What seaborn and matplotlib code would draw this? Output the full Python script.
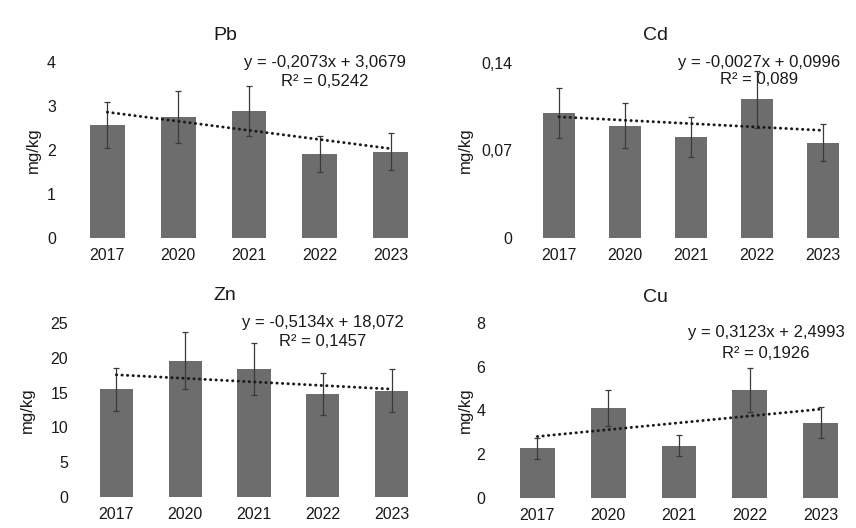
import numpy as np
import pandas as pd
import matplotlib
matplotlib.use("Agg")
import matplotlib.pyplot as plt
import seaborn as sns

sns.set_theme(style="white")
plt.rcParams["font.family"] = ["Liberation Sans", "DejaVu Sans"]

years = ["2017", "2020", "2021", "2022", "2023"]

pb_mean = [2.57, 2.76, 2.89, 1.91, 1.96]
pb_sd = [0.52, 0.59, 0.57, 0.40, 0.42]
cd_mean = [0.100, 0.0898, 0.0805, 0.111, 0.0762]
cd_sd = [0.0203, 0.018, 0.016, 0.023, 0.015]
zn_mean = [15.5, 19.6, 18.4, 14.8, 15.25]
zn_sd = [3.1, 4.1, 3.7, 3.0, 3.1]
cu_mean = [2.28, 4.11, 2.40, 4.95, 3.45]
cu_sd = [0.48, 0.84, 0.46, 1.0, 0.71]

# linear trend coefficients (slope, intercept) and R² as printed on each panel
pb_fit = (-0.2073, 3.0679, 0.5242)
cd_fit = (-0.0027, 0.0996, 0.089)
zn_fit = (-0.5134, 18.072, 0.1457)
cu_fit = (0.3123, 2.4993, 0.1926)

pb_fit_txt = ("y = -0,2073x + 3,0679", "R² = 0,5242")
cd_fit_txt = ("y = -0,0027x + 0,0996", "R² = 0,089")
zn_fit_txt = ("y = -0,5134x + 18,072", "R² = 0,1457")
cu_fit_txt = ("y = 0,3123x + 2,4993", "R² = 0,1926")

pb_ticks = [0, 1, 2, 3, 4]
pb_ticklabels = ["0", "1", "2", "3", "4"]
cd_ticks = [0, 0.07, 0.14]
cd_ticklabels = ["0", "0,07", "0,14"]
zn_ticks = [0, 5, 10, 15, 20, 25]
zn_ticklabels = ["0", "5", "10", "15", "20", "25"]
cu_ticks = [0, 2, 4, 6, 8]
cu_ticklabels = ["0", "2", "4", "6", "8"]

W, H = 856, 528
fig = plt.figure(figsize=(W / 100, H / 100), dpi=100)
fig.patch.set_facecolor("white")

BAR = "#6d6d6d"
ERR = "#3a3a3a"
INK = "#1a1a1a"


def add_axes_px(left, right, top, bottom):
    return fig.add_axes([left / W, 1 - bottom / H, (right - left) / W, (bottom - top) / H])


panels = [
    dict(name="Pb", mean=pb_mean, sd=pb_sd, fit=pb_fit, txt=pb_fit_txt,
         ticks=pb_ticks, tl=pb_ticklabels, box=(72, 426, 62, 238),
         ylab=(33, 150), title=(225, 35), eq=(325, 62), r2=(325, 82), ypad=11.5, width=0.49),
    dict(name="Cd", mean=cd_mean, sd=cd_sd, fit=cd_fit, txt=cd_fit_txt,
         ticks=cd_ticks, tl=cd_ticklabels, box=(526, 856, 63, 238),
         ylab=(465, 150), title=(655, 35), eq=(759, 62), r2=(759, 80), ypad=10, width=0.48),
    dict(name="Zn", mean=zn_mean, sd=zn_sd, fit=zn_fit, txt=zn_fit_txt,
         ticks=zn_ticks, tl=zn_ticklabels, box=(82, 426, 323, 497),
         ylab=(27, 410), title=(225, 295), eq=(323, 322), r2=(323, 342), ypad=10, width=0.48),
    dict(name="Cu", mean=cu_mean, sd=cu_sd, fit=cu_fit, txt=cu_fit_txt,
         ticks=cu_ticks, tl=cu_ticklabels, box=(502, 856, 323, 498),
         ylab=(465, 410), title=(655, 297), eq=(766, 333), r2=(766, 353), ypad=12, width=0.49),
]

for p in panels:
    left, right, top, bottom = p["box"]
    ax = add_axes_px(left, right, top, bottom)
    df = pd.DataFrame({"year": years, "value": p["mean"]})
    sns.barplot(data=df, x="year", y="value", color=BAR, saturation=1,
                width=p["width"], errorbar=None, ax=ax)
    for patch in ax.patches:
        patch.set_edgecolor("none")
    xs = np.arange(len(years))
    ax.errorbar(xs, p["mean"], yerr=p["sd"], fmt="none", ecolor=ERR,
                elinewidth=0.9, capsize=2.5, capthick=0.9, zorder=3)
    a, b, _ = p["fit"]
    trend = a * (xs + 1) + b
    ax.plot(xs, trend, color=INK, lw=2.1, linestyle=(0, (0.1, 1.8)),
            dash_capstyle="round", zorder=4)

    ax.set_xlim(-0.5, len(years) - 0.5)
    ax.set_ylim(p["ticks"][0], p["ticks"][-1])
    ax.set_yticks(p["ticks"])
    ax.set_yticklabels(p["tl"])
    ax.set_xlabel("")
    ax.set_ylabel("")
    ax.tick_params(axis="both", length=0, labelsize=11.5, colors=INK)
    ax.tick_params(axis="y", pad=p["ypad"])
    ax.tick_params(axis="x", pad=7)
    for s in ax.spines.values():
        s.set_visible(False)
    ax.set_facecolor("none")

    # texts positioned in figure pixels
    fig.text(p["ylab"][0] / W, 1 - p["ylab"][1] / H, "mg/kg", rotation=90,
             ha="center", va="center", fontsize=12, color=INK)
    fig.text(p["title"][0] / W, 1 - p["title"][1] / H, p["name"],
             ha="center", va="center", fontsize=14, color=INK)
    fig.text(p["eq"][0] / W, 1 - p["eq"][1] / H, p["txt"][0],
             ha="center", va="center", fontsize=12, color=INK)
    fig.text(p["r2"][0] / W, 1 - p["r2"][1] / H, p["txt"][1],
             ha="center", va="center", fontsize=12, color=INK)

fig.savefig("out.png", dpi=100, facecolor="white")
